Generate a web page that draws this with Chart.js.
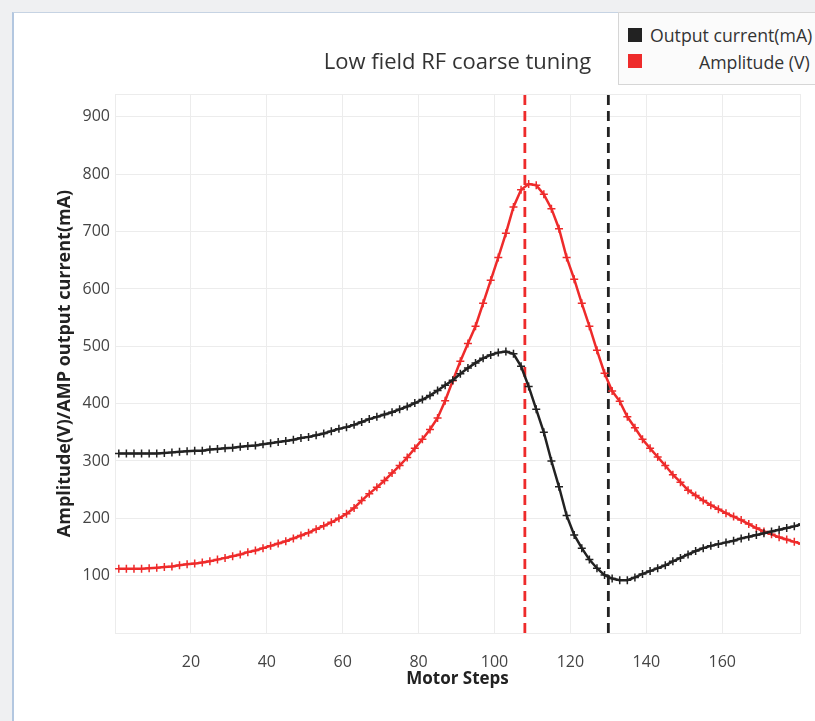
<!DOCTYPE html>
<html>
<head>
<meta charset="utf-8">
<script src="https://cdn.jsdelivr.net/npm/chart.js@4.4.1/dist/chart.umd.min.js"></script>
<style>
	body { margin: 0; width: 815px; height: 721px; overflow: hidden; position: relative; background: #eff0f2; font-family: "Open Sans", sans-serif; }
	#frame { position: absolute; left: 12px; top: 12px; width: 830px; height: 730px; background: #fff; border-left: 2px solid #b3c7e0; border-top: 1px solid #c6d3e3; }
	#tuning { position: absolute; left: 0; top: 0; }
	.legend { position: absolute; left: 618px; top: 12px; width: 220px; height: 71px; background: #fbfbfb; border: 1px solid #d6d6d6; }
	.legend .item { position: absolute; font-size: 17.7px; color: #333; white-space: nowrap; line-height: 20px; }
	.legend .box { position: absolute; width: 14px; height: 14px; }
</style>
</head>
<body>
<div id="frame"></div>
<canvas id="tuning" width="815" height="721"></canvas>
<div class="legend">
	<div class="box" style="left:9px;top:15px;background:#222222"></div>
	<div class="item" style="left:31px;top:12px">Output current(mA)</div>
	<div class="box" style="left:9px;top:41px;background:#ee2b2b"></div>
	<div class="item" style="left:80px;top:39px">Amplitude (V)</div>
</div>
<script>
// motor steps (x), every second step
const steps = [1, 3, 5, 7, 9, 11, 13, 15, 17, 19, 21, 23, 25, 27, 29, 31, 33, 35, 37, 39,
	41, 43, 45, 47, 49, 51, 53, 55, 57, 59, 61, 63, 65, 67, 69, 71, 73, 75, 77, 79,
	81, 83, 85, 87, 89, 91, 93, 95, 97, 99, 101, 103, 105, 107, 109, 111, 113, 115, 117, 119,
	121, 123, 125, 127, 129, 131, 133, 135, 137, 139, 141, 143, 145, 147, 149, 151, 153, 155, 157, 159,
	161, 163, 165, 167, 169, 171, 173, 175, 177, 179, 181];

// Output current (mA)
const outputCurrent = [313, 313, 313, 313, 313, 313, 314, 315, 316, 317, 318, 318, 320, 321, 322, 323, 325, 326, 327, 329,
	331, 333, 335, 337, 340, 342, 345, 348, 352, 356, 359, 363, 368, 373, 377, 381, 385, 390, 395, 401,
	407, 414, 423, 432, 441, 452, 462, 471, 479, 485, 489, 491, 487, 465, 430, 390, 350, 300, 255, 205,
	171, 148, 128, 113, 101, 95, 92, 92, 97, 103, 108, 113, 118, 125, 131, 137, 143, 148, 152, 155,
	158, 161, 165, 168, 171, 174, 177, 180, 183, 186, 190];

// Amplitude (V)
const amplitude = [112, 112, 112, 112, 113, 114, 115, 116, 118, 120, 121, 123, 125, 128, 131, 134, 137, 141, 144, 148,
	152, 156, 160, 165, 170, 175, 181, 187, 193, 200, 208, 218, 231, 243, 254, 266, 279, 292, 306, 322,
	338, 355, 375, 405, 440, 474, 505, 535, 575, 615, 655, 697, 743, 773, 783, 781, 765, 740, 705, 655,
	617, 575, 535, 493, 453, 422, 404, 377, 358, 338, 322, 307, 292, 276, 263, 249, 240, 231, 223, 216,
	209, 203, 197, 190, 183, 177, 172, 167, 163, 159, 155];

// marked steps (dashed verticals)
const amplitudePeakStep = 108;
const currentDipStep = 130;

const yMax = 940;
const xMax = 180.5;

const toPoints = (vals) => vals.map((v, i) => ({ x: steps[i], y: v }));

// title centred over the plot area
const titlePlugin = {
	id: 'plotTitle',
	afterDraw(chart) {
		const { ctx, chartArea } = chart;
		ctx.save();
		ctx.font = '22px "Open Sans"';
		ctx.fillStyle = '#333333';
		ctx.textAlign = 'center';
		ctx.textBaseline = 'middle';
		ctx.fillText('Low field RF coarse tuning', (chartArea.left + chartArea.right) / 2, 63);
		ctx.restore();
	},
};

const gridColor = '#ececec';

new Chart(document.getElementById('tuning'), {
	type: 'line',
	plugins: [titlePlugin],
	data: {
		datasets: [
			{
				label: 'Output current(mA)',
				data: toPoints(outputCurrent),
				borderColor: '#222222',
				borderWidth: 2.5,
				pointStyle: 'cross',
				pointRadius: 4,
				pointBorderWidth: 1.5,
				pointBorderColor: '#222222',
				order: 1,
			},
			{
				label: 'Amplitude (V)',
				data: toPoints(amplitude),
				borderColor: '#ee2b2b',
				borderWidth: 2.5,
				pointStyle: 'cross',
				pointRadius: 4,
				pointBorderWidth: 1.5,
				pointBorderColor: '#ee2b2b',
				order: 2,
			},
			{
				label: 'peak',
				data: [{ x: amplitudePeakStep, y: 0 }, { x: amplitudePeakStep, y: yMax }],
				borderColor: '#ee2b2b',
				borderWidth: 2.8,
				borderDash: [10, 6],
				pointRadius: 0,
				order: 3,
			},
			{
				label: 'dip',
				data: [{ x: currentDipStep, y: 0 }, { x: currentDipStep, y: yMax }],
				borderColor: '#222222',
				borderWidth: 2.8,
				borderDash: [10, 6],
				pointRadius: 0,
				order: 4,
			},
		],
	},
	options: {
		responsive: false,
		animation: false,
		devicePixelRatio: 1,
		layout: { padding: { left: 0, right: 15, top: 94, bottom: 32 } },
		plugins: {
			legend: { display: false },
			tooltip: { enabled: false },
		},
		scales: {
			x: {
				type: 'linear',
				min: 0,
				max: xMax,
				afterFit: (scale) => { scale.height = 56; },
				grid: { color: gridColor, drawTicks: true, tickLength: 20, tickColor: 'rgba(0,0,0,0)' },
				border: { color: gridColor },
				ticks: {
					stepSize: 20,
					padding: 0,
					maxRotation: 0,
					color: '#444444',
					font: { family: 'Open Sans', size: 16 },
					callback: (v) => (v > 0 && v < 180 && v % 20 === 0 ? v : ''),
				},
				title: {
					display: true,
					text: 'Motor Steps',
					color: '#222222',
					padding: { top: 0, bottom: 0 },
					font: { family: 'Open Sans', size: 17, weight: 'bold' },
				},
			},
			y: {
				min: 0,
				max: yMax,
				afterFit: (scale) => { scale.width = 115; },
				grid: { color: gridColor, drawTicks: false },
				border: { color: gridColor },
				ticks: {
					stepSize: 100,
					padding: 5,
					color: '#444444',
					font: { family: 'Open Sans', size: 16 },
					callback: (v) => (v > 0 && v % 100 === 0 ? v : ''),
				},
				title: {
					display: true,
					text: 'Amplitude(V)/AMP output current(mA)',
					color: '#222222',
					padding: { top: 54, bottom: 0 },
					font: { family: 'Open Sans', size: 18, weight: 'bold' },
				},
			},
		},
	},
});
</script>
</body>
</html>
